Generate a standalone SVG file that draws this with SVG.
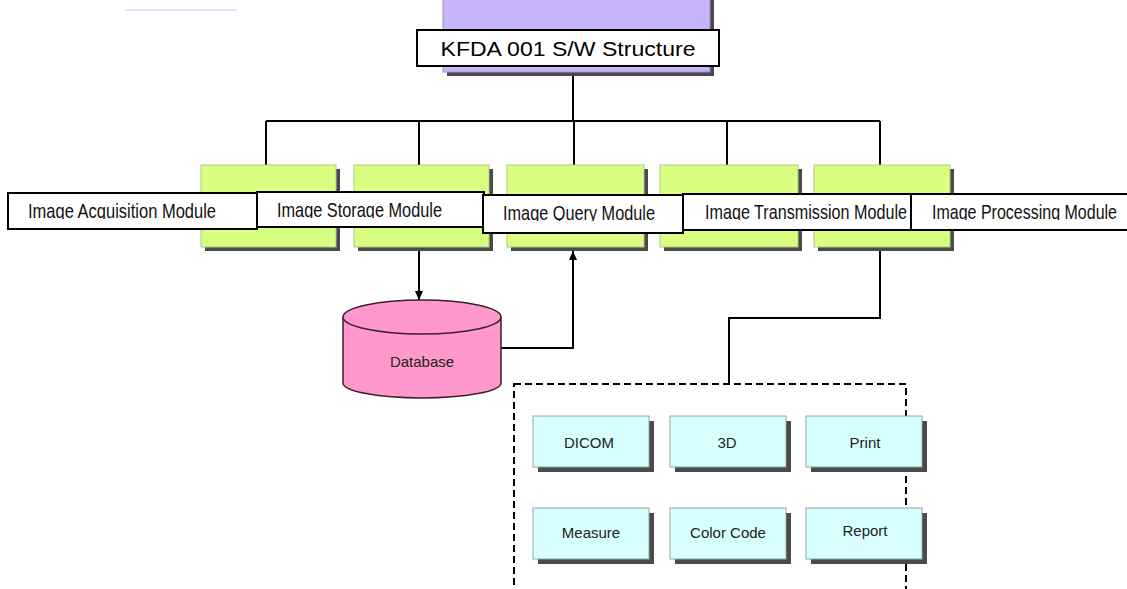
<svg xmlns="http://www.w3.org/2000/svg" width="1127" height="589" viewBox="0 0 1127 589">
<style>
  .lbl { fill:#fff; stroke:#000; stroke-width:2; }
  .lt { font-family:"Liberation Sans", Arial, sans-serif; font-size:21px; fill:#111; }
  .green { fill:#d9ff80; stroke:#b0c890; stroke-width:1; }
  .shadow { fill:#4a4a4a; }
  .cyan { fill:#d8ffff; stroke:#8aa8a8; stroke-width:1; }
  .ct { font-family:"Liberation Sans", Arial, sans-serif; font-size:15px; fill:#222; text-anchor:middle; }
  .conn { fill:none; stroke:#000; stroke-width:2; }
</style>
<defs>
  <marker id="arr" markerWidth="10" markerHeight="10" refX="9" refY="5" orient="auto" markerUnits="userSpaceOnUse">
    <path d="M0,1 L9,5 L0,9 Z" fill="#000"/>
  </marker>
  <clipPath id="c1"><rect x="8" y="193" width="249" height="26"/></clipPath>
  <clipPath id="c2"><rect x="257" y="192" width="227" height="26"/></clipPath>
  <clipPath id="c3"><rect x="483" y="195" width="200" height="26"/></clipPath>
  <clipPath id="c4"><rect x="683" y="194" width="228" height="26"/></clipPath>
  <clipPath id="c5"><rect x="911" y="194" width="216" height="26"/></clipPath>
</defs>
<rect width="1127" height="589" fill="#fff"/>
<line x1="125" y1="10" x2="237" y2="10" stroke="#e8dcff" stroke-width="2"/>

<g id="connectors">
  <path class="conn" d="M573,72 V121"/>
  <path class="conn" d="M266,121 H880"/>
  <path class="conn" d="M266,121 V165 M419,121 V165 M574,121 V165 M727,121 V165 M880,121 V165"/>
  <path class="conn" d="M419,247 V300" marker-end="url(#arr)"/>
  <path class="conn" d="M501,348 H573 V251" marker-end="url(#arr)"/>
  <path class="conn" d="M880,247 V318 H729 V384"/>
</g>

<g id="root">
  <rect class="shadow" x="447" y="-4" width="267" height="80"/>
  <rect x="443" y="-8" width="267" height="80" fill="#c8b4f8" stroke="#9a88cc" stroke-width="1"/>
  <rect class="lbl" x="417" y="30" width="302" height="36"/>
  <text x="568" y="56" font-family="Liberation Sans, Arial, sans-serif" font-size="20" text-anchor="middle" fill="#000" textLength="255" lengthAdjust="spacingAndGlyphs">KFDA 001 S/W Structure</text>
</g>

<g id="green-boxes">
  <rect class="shadow" x="205" y="169" width="135" height="82"/>
  <rect class="green" x="201" y="165" width="135" height="82"/>
  <rect class="shadow" x="358" y="169" width="135" height="82"/>
  <rect class="green" x="354" y="165" width="135" height="82"/>
  <rect class="shadow" x="511" y="169" width="137" height="82"/>
  <rect class="green" x="507" y="165" width="137" height="82"/>
  <rect class="shadow" x="664" y="169" width="138" height="82"/>
  <rect class="green" x="660" y="165" width="138" height="82"/>
  <rect class="shadow" x="818" y="169" width="136" height="82"/>
  <rect class="green" x="814" y="165" width="136" height="82"/>
</g>

<g id="acquisition">
  <rect class="lbl" x="8" y="193" width="249" height="36"/>
  <text class="lt" x="28" y="218" textLength="188" lengthAdjust="spacingAndGlyphs" clip-path="url(#c1)">Image Acquisition Module</text>
</g>
<g id="storage">
  <rect class="lbl" x="257" y="192" width="227" height="35"/>
  <text class="lt" x="277" y="217" textLength="165" lengthAdjust="spacingAndGlyphs" clip-path="url(#c2)">Image Storage Module</text>
</g>
<g id="query">
  <rect class="lbl" x="483" y="195" width="200" height="38"/>
  <text class="lt" x="503" y="220" textLength="152" lengthAdjust="spacingAndGlyphs" clip-path="url(#c3)">Image Query Module</text>
</g>
<g id="transmission">
  <rect class="lbl" x="683" y="194" width="228" height="36"/>
  <text class="lt" x="705" y="219" textLength="202" lengthAdjust="spacingAndGlyphs" clip-path="url(#c4)">Image Transmission Module</text>
</g>
<g id="processing">
  <rect class="lbl" x="911" y="194" width="230" height="36"/>
  <text class="lt" x="932" y="219" textLength="185" lengthAdjust="spacingAndGlyphs" clip-path="url(#c5)">Image Processing Module</text>
</g>

<g id="database">
  <path d="M343,317 V383 A79,15 0 0 0 501,383 V317" fill="#ff99cc" stroke="#3a2030" stroke-width="1.5"/>
  <ellipse cx="422" cy="317" rx="79" ry="17" fill="#ff99cc" stroke="#3a2030" stroke-width="1.5"/>
  <text class="ct" x="422" y="367" font-size="14">Database</text>
</g>

<g id="processing-group">
  <rect x="514" y="384" width="392" height="220" fill="none" stroke="#000" stroke-width="2" stroke-dasharray="7,4"/>
</g>

<g id="dicom">
  <rect class="shadow" x="538" y="421" width="116" height="51"/>
  <rect class="cyan" x="533" y="416" width="116" height="51"/>
  <text class="ct" x="589" y="448">DICOM</text>
</g>
<g id="3d">
  <rect class="shadow" x="675" y="421" width="116" height="51"/>
  <rect class="cyan" x="670" y="416" width="116" height="51"/>
  <text class="ct" x="727" y="448">3D</text>
</g>
<g id="print">
  <rect class="shadow" x="811" y="421" width="116" height="51"/>
  <rect class="cyan" x="806" y="416" width="116" height="51"/>
  <text class="ct" x="865" y="448">Print</text>
</g>
<g id="measure">
  <rect class="shadow" x="538" y="513" width="116" height="51"/>
  <rect class="cyan" x="533" y="508" width="116" height="51"/>
  <text class="ct" x="591" y="538">Measure</text>
</g>
<g id="colorcode">
  <rect class="shadow" x="675" y="513" width="116" height="51"/>
  <rect class="cyan" x="670" y="508" width="116" height="51"/>
  <text class="ct" x="728" y="538">Color Code</text>
</g>
<g id="report">
  <rect class="shadow" x="811" y="513" width="116" height="51"/>
  <rect class="cyan" x="806" y="508" width="116" height="51"/>
  <text class="ct" x="865" y="536">Report</text>
</g>
</svg>
